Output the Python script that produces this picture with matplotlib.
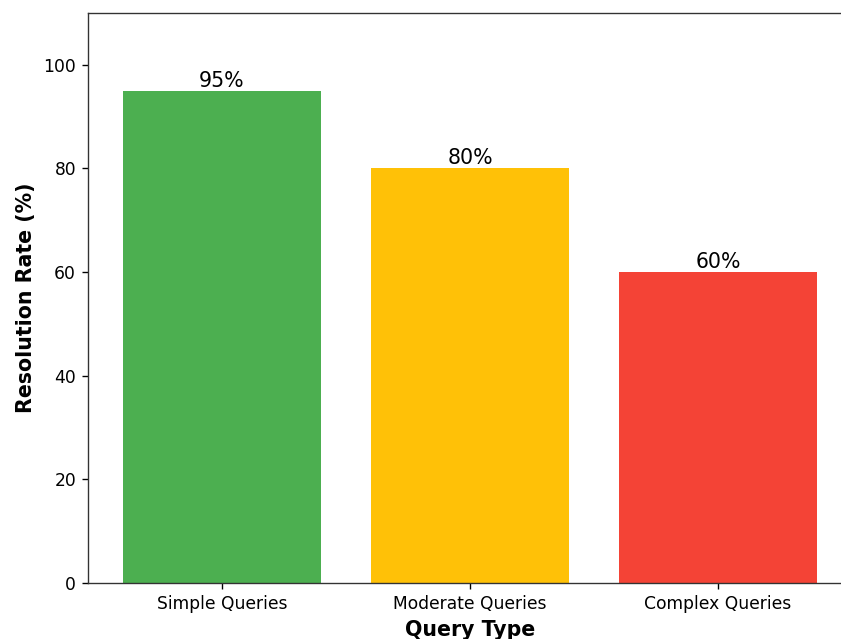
import matplotlib
matplotlib.use("Agg")
import matplotlib.pyplot as plt

categories = ["Simple Queries", "Moderate Queries", "Complex Queries"]
rates = [95, 80, 60]
colors = ["#4CAF50", "#FFC107", "#F44336"]

DPI = 123
fig = plt.figure(figsize=(841 / DPI, 639 / DPI), dpi=DPI)
ax = fig.add_axes([88 / 841, 56 / 639, 764 / 841, 570 / 639])

bars = ax.bar(categories, rates, color=colors, width=0.8)
for b, v in zip(bars, rates):
    ax.text(b.get_x() + b.get_width() / 2, v, f"{v}%",
            ha="center", va="bottom", fontsize=12)

ax.set_ylim(0, 110)
ax.set_xlabel("Query Type", fontsize=12, fontweight="bold")
ax.set_ylabel("Resolution Rate (%)", fontsize=12, fontweight="bold")
for s in ax.spines.values():
    s.set_color("#333333")

fig.savefig("out.png", dpi=DPI)
